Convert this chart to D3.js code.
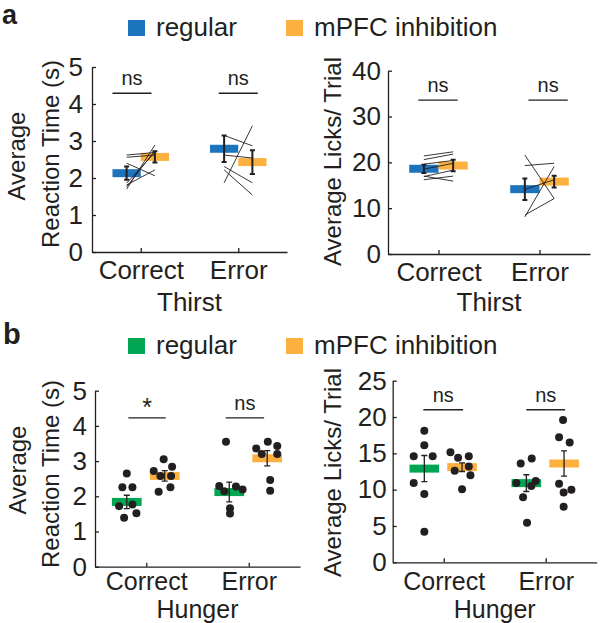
<!DOCTYPE html>
<html><head><meta charset="utf-8">
<script src="https://cdn.jsdelivr.net/npm/d3@7"></script>
<style>
body{margin:0;background:#fff}
svg{display:block}
text{font-family:"Liberation Sans",Arial,sans-serif;fill:#231f20}
</style>
</head><body>
<svg id="c" width="600" height="623"></svg>
<script>
// ---------------- DATA ----------------
const categories = ["Correct", "Error"];
const legendLabels = ["regular", "mPFC inhibition"];

// Panel a (Thirst) – reaction time
const thirstRTRegMean = [2.13, 2.79];
const thirstRTInhMean = [2.57, 2.43];
const thirstRTRegSem = [0.18, 0.36];
const thirstRTInhSem = [0.15, 0.32];
const thirstRTCorrectReg = [2.62, 2.56, 2.40, 1.86, 1.81, 1.76, 1.70];
const thirstRTCorrectInh = [2.69, 2.62, 2.06, 2.69, 2.22, 2.74, 2.89];
const thirstRTErrorReg = [3.15, 2.62, 1.87, 2.31, 2.22];
const thirstRTErrorInh = [2.87, 2.54, 3.41, 1.87, 1.54];
const thirstRTSig = ["ns", "ns"];
const thirstRTYTicks = [0, 1, 2, 3, 4, 5];

// Panel a (Thirst) – licks
const thirstLicksRegMean = [18.6, 14.15];
const thirstLicksInhMean = [19.3, 15.8];
const thirstLicksRegSem = [0.9, 2.35];
const thirstLicksInhSem = [1.25, 1.3];
const thirstLicksCorrectReg = [21.4, 20.6, 19.6, 18.5, 17.0, 16.9, 16.2];
const thirstLicksCorrectInh = [22.3, 21.8, 20.4, 19.8, 15.9, 18.3, 17.0];
const thirstLicksErrorReg = [21.6, 19.3, 8.1, 8.5, 14.1];
const thirstLicksErrorInh = [12.1, 19.8, 19.1, 12.1, 16.2];
const thirstLicksSig = ["ns", "ns"];
const thirstLicksYTicks = [0, 10, 20, 30, 40];

// Panel b (Hunger) – reaction time
const hungerRTRegMean = [1.84, 2.12];
const hungerRTInhMean = [2.58, 3.08];
const hungerRTRegSem = [0.19, 0.28];
const hungerRTInhSem = [0.15, 0.215];
const hungerRTCorrectReg = [2.65, 2.26, 2.26, 1.72, 1.77, 1.52, 1.39];
const hungerRTCorrectInh = [3.05, 2.72, 2.84, 2.58, 2.58, 2.13, 2.26];
const hungerRTErrorReg = [3.55, 2.29, 2.28, 2.19, 2.14, 1.66, 1.51];
const hungerRTErrorInh = [3.36, 3.55, 3.43, 3.20, 3.20, 2.46, 2.16];
const hungerRTCorrectRegJitter = [0, -0.043, 0.055, -0.075, 0.055, 0.094, -0.026];
const hungerRTCorrectInhJitter = [-0.01, -0.107, 0.072, -0.042, 0.062, -0.059, 0.056];
const hungerRTErrorRegJitter = [-0.032, -0.098, 0.065, 0.13, -0.049, 0.007, 0.007];
const hungerRTErrorInhJitter = [-0.107, 0.006, 0.098, -0.053, 0.098, 0.029, 0.029];
const hungerRTSig = ["*", "ns"];
const hungerRTYTicks = [0, 1, 2, 3, 4, 5];

// Panel b (Hunger) – licks
const hungerLicksRegMean = [12.9, 10.9];
const hungerLicksInhMean = [13.1, 13.6];
const hungerLicksRegSem = [1.8, 1.15];
const hungerLicksInhSem = [0.6, 1.75];
const hungerLicksCorrectReg = [18.1, 16.1, 14.6, 14.6, 10.9, 9.4, 4.2];
const hungerLicksCorrectInh = [15.15, 14.6, 14.4, 12.6, 13.2, 12.0, 10.05];
const hungerLicksErrorReg = [13.6, 14.3, 10.9, 11.2, 10.5, 8.95, 5.45];
const hungerLicksErrorInh = [19.6, 17.2, 16.5, 10.8, 10.0, 9.6, 7.66];
const hungerLicksCorrectRegJitter = [0, 0, -0.104, 0.082, -0.104, 0, 0];
const hungerLicksCorrectInhJitter = [-0.114, 0.066, -0.039, -0.072, 0.066, 0.082, 0];
const hungerLicksErrorRegJitter = [-0.055, 0.053, -0.098, 0.092, 0.049, -0.032, 0.007];
const hungerLicksErrorInhJitter = [-0.01, -0.049, 0.055, -0.049, 0.072, -0.004, -0.004];
const hungerLicksSig = ["ns", "ns"];
const hungerLicksYTicks = [0, 5, 10, 15, 20, 25];

// ---------------- DRAWING ----------------
const BLUE = "#1c75bc", ORANGE = "#fbb040", GREEN = "#00a651", INK = "#231f20";
const FONT_TICK = 26, FONT_LABEL = 24, FONT_SIG = 20, FONT_LEG = 26;
const svg = d3.select("#c");

function panel(cfg) {
  const x = d3.scaleLinear().domain([0.5, 2.5]).range(cfg.xr);
  const y = d3.scaleLinear().domain([0, cfg.ymax]).range([cfg.y0, cfg.yTop]);
  const g = svg.append("g");

  // bars (mean)
  [0, 1].forEach(i => {
    [[cfg.regMean, cfg.regColor, cfg.regBar], [cfg.inhMean, ORANGE, cfg.inhBar]].forEach(([m, col, off]) => {
      g.append("rect")
        .attr("x", x(i + 1 + off[0])).attr("width", x(i + 1 + off[1]) - x(i + 1 + off[0]))
        .attr("y", y(m[i]) - 4).attr("height", 8).attr("fill", col);
    });
  });

  // paired lines
  if (cfg.pairs) {
    cfg.pairs.forEach(([reg, inh], i) => {
      reg.forEach((v, k) => {
        g.append("line")
          .attr("x1", x(i + 1 + cfg.regC)).attr("x2", x(i + 1 + cfg.inhC))
          .attr("y1", y(v)).attr("y2", y(inh[k]))
          .attr("stroke", INK).attr("stroke-width", 0.9);
      });
    });
  }

  // dots
  if (cfg.dots) {
    cfg.dots.forEach(([vals, jit, c], idx) => {
      const i = Math.floor(idx / 2);
      vals.forEach((v, k) => {
        g.append("circle")
          .attr("cx", x(i + 1 + c + jit[k])).attr("cy", y(v)).attr("r", 4)
          .attr("fill", INK);
      });
    });
  }

  // error bars
  [0, 1].forEach(i => {
    [[cfg.regMean, cfg.regSem, cfg.regC], [cfg.inhMean, cfg.inhSem, cfg.inhC]].forEach(([m, s, c]) => {
      const cx = x(i + 1 + c), top = y(m[i] + s[i]), bot = y(m[i] - s[i]);
      const w = cfg.capW;
      g.append("path")
        .attr("d", `M${cx},${top}V${bot}M${cx - w},${top}H${cx + w}M${cx - w},${bot}H${cx + w}`)
        .attr("stroke", INK).attr("stroke-width", cfg.ebW).attr("fill", "none");
    });
  });

  // significance
  cfg.sig.forEach((lab, i) => {
    const [a, b] = cfg.sigX[i];
    g.append("line").attr("x1", x(a)).attr("x2", x(b))
      .attr("y1", y(cfg.sigY)).attr("y2", y(cfg.sigY))
      .attr("stroke", INK).attr("stroke-width", 1.3);
    const star = lab === "*";
    g.append("text").attr("x", (x(a) + x(b)) / 2).attr("y", y(cfg.sigY) - (star ? 2 : 8))
      .attr("text-anchor", "middle").attr("font-size", star ? 25 : FONT_SIG).text(lab);
  });

  // axes
  const ya = d3.axisLeft(y).tickValues(cfg.yticks).tickFormat(d3.format("d"))
    .tickSizeInner(-4).tickSizeOuter(0).tickPadding(cfg.ypad);
  const yg = g.append("g").attr("transform", `translate(${cfg.xr[0]},0)`).call(ya);
  const xa = d3.axisBottom(x).tickValues([1, 2]).tickFormat((d, i) => categories[i])
    .tickSizeInner(-4).tickSizeOuter(0).tickPadding(cfg.xpad);
  const xg = g.append("g").attr("transform", `translate(0,${cfg.y0})`).call(xa);
  [yg, xg].forEach(a => {
    a.selectAll("path.domain").attr("stroke", INK).attr("stroke-width", 1.3);
    a.selectAll(".tick line").attr("stroke", INK).attr("stroke-width", 1.3);
    a.selectAll(".tick text").attr("font-size", cfg.xfont && a === xg ? cfg.xfont : FONT_TICK).attr("fill", INK)
      .style("font-family", '"Liberation Sans",Arial,sans-serif');
  });

  // group label under x axis
  g.append("text").attr("x", (cfg.xr[0] + cfg.xr[1]) / 2).attr("y", cfg.y0 + cfg.groupDy)
    .attr("text-anchor", "middle").attr("font-size", cfg.xfont || FONT_TICK).text(cfg.group);

  // y labels
  cfg.ylabels.forEach(([txt, bx, cy]) => {
    g.append("text").attr("transform", `translate(${bx},${cy}) rotate(-90)`)
      .attr("text-anchor", "middle").attr("font-size", FONT_LABEL).text(txt);
  });
}

const aBars = { regBar: [-0.29, 0], inhBar: [0, 0.29], regC: -0.145, inhC: 0.145, capW: 2.5, ebW: 2 };
const bBars = { regBar: [-0.335, -0.045], inhBar: [0.035, 0.325], regC: -0.19, inhC: 0.18, capW: 3, ebW: 1.3 };

panel(Object.assign({}, aBars, {
  xr: [92, 287], y0: 252, yTop: 67, ymax: 5, yticks: thirstRTYTicks, ypad: 9, xpad: 9, groupDy: 59,
  regColor: BLUE, regMean: thirstRTRegMean, inhMean: thirstRTInhMean, regSem: thirstRTRegSem, inhSem: thirstRTInhSem,
  pairs: [[thirstRTCorrectReg, thirstRTCorrectInh], [thirstRTErrorReg, thirstRTErrorInh]],
  sig: thirstRTSig, sigY: 4.29, sigX: [[0.71, 1.11], [1.80, 2.20]], group: "Thirst",
  ylabels: [["Average", 25, 156], ["Reaction Time (s)", 59, 154]]
}));
panel(Object.assign({}, aBars, {
  xr: [388, 590], y0: 254, yTop: 70.7, ymax: 40, yticks: thirstLicksYTicks, ypad: 7, xpad: 9, groupDy: 57,
  regColor: BLUE, regMean: thirstLicksRegMean, inhMean: thirstLicksInhMean, regSem: thirstLicksRegSem, inhSem: thirstLicksInhSem,
  pairs: [[thirstLicksCorrectReg, thirstLicksCorrectInh], [thirstLicksErrorReg, thirstLicksErrorInh]],
  sig: thirstLicksSig, sigY: 33.6, sigX: [[0.80, 1.19], [1.89, 2.28]], group: "Thirst",
  ylabels: [["Average Licks/ Trial", 341, 161.5]]
}));
panel(Object.assign({}, bBars, {
  xr: [95, 300], y0: 566.7, yTop: 390.7, ymax: 5, yticks: hungerRTYTicks, ypad: 8, xpad: 6, groupDy: 51, xfont: 25,
  regColor: GREEN, regMean: hungerRTRegMean, inhMean: hungerRTInhMean, regSem: hungerRTRegSem, inhSem: hungerRTInhSem,
  dots: [[hungerRTCorrectReg, hungerRTCorrectRegJitter, -0.19], [hungerRTCorrectInh, hungerRTCorrectInhJitter, 0.18],
         [hungerRTErrorReg, hungerRTErrorRegJitter, -0.19], [hungerRTErrorInh, hungerRTErrorInhJitter, 0.18]],
  sig: hungerRTSig, sigY: 4.23, sigX: [[0.825, 1.19], [1.775, 2.15]], group: "Hunger",
  ylabels: [["Average", 26, 470], ["Reaction Time (s)", 59, 474]]
}));
panel(Object.assign({}, bBars, {
  xr: [392.7, 596.7], y0: 562.3, yTop: 380.7, ymax: 25, yticks: hungerLicksYTicks, ypad: 6, xpad: 10, groupDy: 55.3, xfont: 25,
  regColor: GREEN, regMean: hungerLicksRegMean, inhMean: hungerLicksInhMean, regSem: hungerLicksRegSem, inhSem: hungerLicksInhSem,
  dots: [[hungerLicksCorrectReg, hungerLicksCorrectRegJitter, -0.19], [hungerLicksCorrectInh, hungerLicksCorrectInhJitter, 0.18],
         [hungerLicksErrorReg, hungerLicksErrorRegJitter, -0.19], [hungerLicksErrorInh, hungerLicksErrorInhJitter, 0.18]],
  sig: hungerLicksSig, sigY: 21.0, sigX: [[0.80, 1.19], [1.81, 2.19]], group: "Hunger",
  ylabels: [["Average Licks/ Trial", 341, 472.5]]
}));

// legends
function legend(y, regColor) {
  const items = [[regColor, 128, legendLabels[0]], [ORANGE, 286, legendLabels[1]]];
  items.forEach(([c, x0, t]) => {
    svg.append("rect").attr("x", x0).attr("y", y - 16).attr("width", 17).attr("height", 16).attr("fill", c);
    svg.append("text").attr("x", x0 + 28).attr("y", y).attr("font-size", FONT_LEG).text(t);
  });
}
legend(36, BLUE);
legend(354, GREEN);

// panel letters
svg.append("text").attr("x", 2).attr("y", 24).attr("font-size", 27).attr("font-weight", "bold").text("a");
svg.append("text").attr("x", 3).attr("y", 344).attr("font-size", 29).attr("font-weight", "bold").text("b");
</script>
</body></html>
